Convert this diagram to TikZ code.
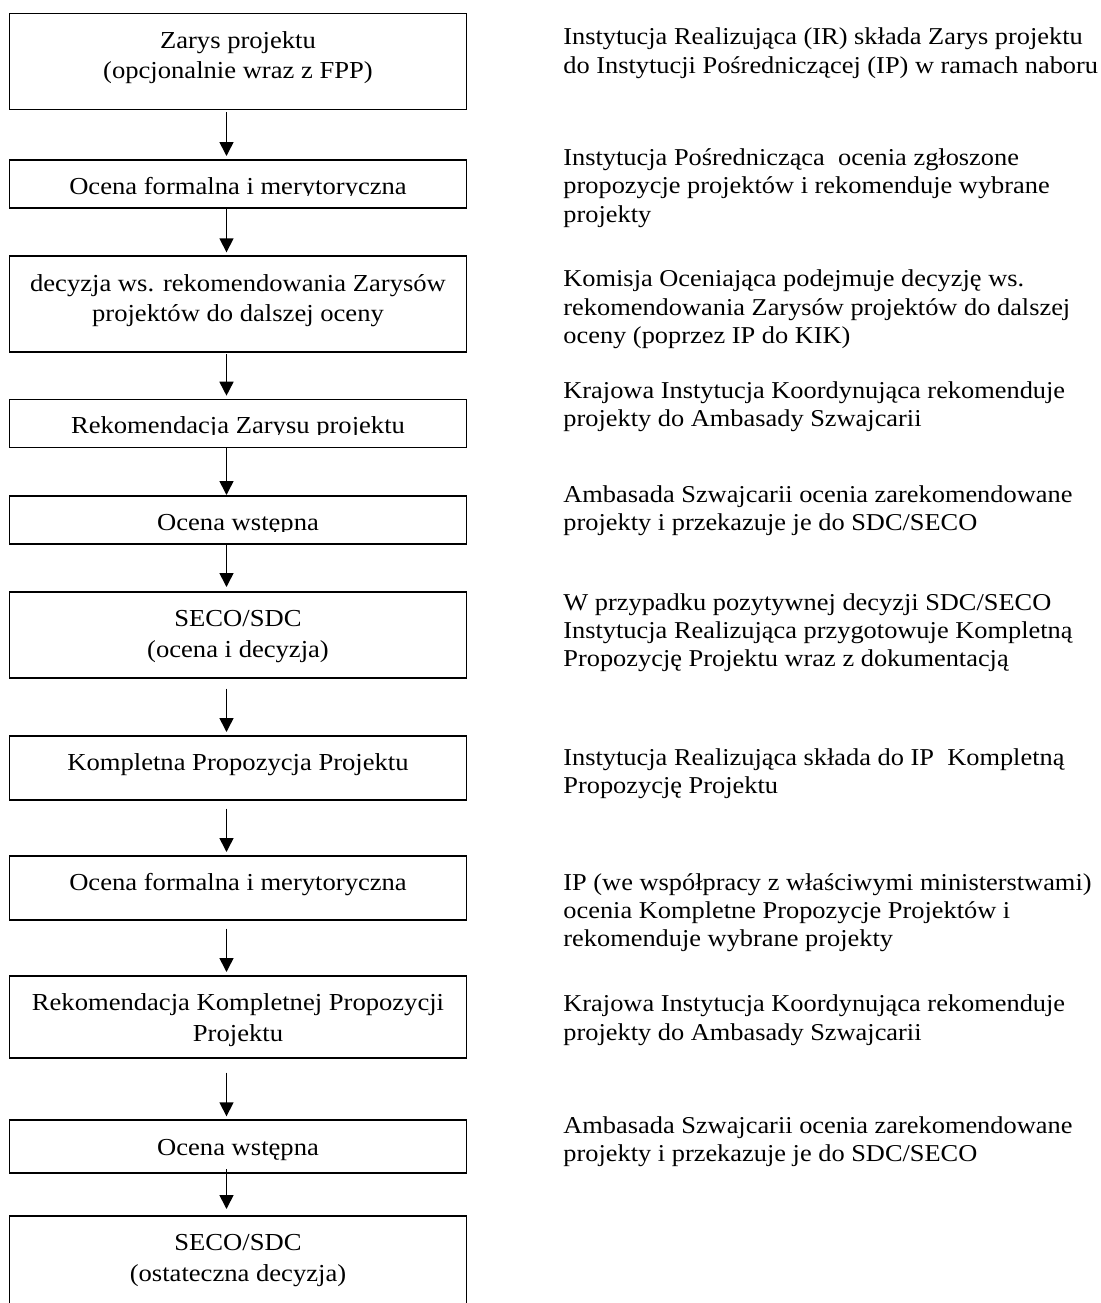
\documentclass[tikz,border=0pt]{standalone}
\usepackage{fontspec}
\setmainfont[FakeStretch=1.09]{Liberation Serif}
\usetikzlibrary{arrows.meta}

\tikzset{
	stage/.style={draw, line width=0.85pt, anchor=north, minimum width=228.5pt,
		inner xsep=0pt, inner ysep=0pt, text height=17.5pt, align=center,
		font=\fontsize{12.2}{15.2}\selectfont},
	stagetext/.style={anchor=base, inner sep=0pt, font=\fontsize{12.2}{15.2}\selectfont},
	note/.style={anchor=base west, inner sep=0pt, align=left,
		font=\fontsize{12.1}{14.15}\selectfont},
	flow/.style={-{Triangle[width=7pt,length=7pt]}, line width=0.8pt}
}

\begin{document}
\begin{tikzpicture}[x=0.5pt,y=-0.5pt]
	\useasboundingbox (0,0) rectangle (1101,1303);
	
	% draw boxes (two-line boxes: text height counts to the last line)
	\node[stage, text height=32.7pt, text depth=15.3pt] (b1) at (238,12.7) {Zarys projektu\\(opcjonalnie wraz z FPP)};
	\node[stage, text depth=6.5pt] (b2) at (238,159) {};
	\node[stage, text height=32.7pt, text depth=15.3pt] (b3) at (238,255.3) {decyzja ws. rekomendowania Zarysów\\projektów do dalszej oceny};
	\node[stage, text depth=6.5pt] (b4) at (238,398.7) {};
	\node[stage, text depth=6.5pt] (b5) at (238,495) {};
	\node[stage, text height=32.7pt, text depth=10.3pt] (b6) at (238,591) {SECO/SDC\\(ocena i decyzja)};
	\node[stage, text depth=14.5pt] (b7) at (238,735) {Kompletna Propozycja Projektu};
	\node[stage, text depth=14.5pt] (b8) at (238,855) {Ocena formalna i merytoryczna};
	\node[stage, text height=32.7pt, text depth=8.3pt] (b9) at (238,975) {Rekomendacja Kompletnej Propozycji\\Projektu};
	\node[stage, text depth=9pt] (b10) at (238,1119.3) {Ocena wstępna};
	\node[stage, text height=32.7pt, text depth=24.8pt] (b11) at (238,1215) {SECO/SDC\\(ostateczna decyzja)};
	
	% text cut off at the bottom of the box
	\foreach \bx/\txt in {b2/Ocena formalna i merytoryczna, b4/Rekomendacja Zarysu projektu, b5/Ocena wstępna}
	{
		\begin{scope}
			\clip (\bx.north west) rectangle ([yshift=-18pt]\bx.north east);
			\node[stagetext] at ([yshift=-17.5pt]\bx.north) {\txt};
		\end{scope}
	}
	
	% draw arrows
	\foreach \from/\to/\s/\e in {b1/b2/1/1.5, b2/b3/0/1.5, b3/b4/0.5/1.5, b4/b5/0/0, b5/b6/0/2,
		b6/b7/5/1.5, b7/b8/4/1.5, b8/b9/4/1.5, b9/b10/7/1.5, b10/b11/-2.5/3}
	\draw[flow, shorten <=\s pt, shorten >=\e pt] ([xshift=-5.75pt]\from.south) -- ([xshift=-5.75pt]\to.north);
	
	% draw notes (placed at the baseline of their last line)
	\node[note] (n1) at (563,73) {Instytucja Realizująca (IR) składa Zarys projektu\\do Instytucji Pośredniczącej (IP) w ramach naboru};
	\node[note] (n2) at (563,222) {Instytucja Pośrednicząca\ \ ocenia zgłoszone\\propozycje projektów i rekomenduje wybrane\\projekty};
	\node[note] (n3) at (563,343.5) {Komisja Oceniająca podejmuje decyzję ws.\\rekomendowania Zarysów projektów do dalszej\\oceny (poprzez IP do KIK)};
	\node[note] (n4) at (563,426.7) {Krajowa Instytucja Koordynująca rekomenduje\\projekty do Ambasady Szwajcarii};
	\node[note] (n5) at (563,530.5) {Ambasada Szwajcarii ocenia zarekomendowane\\projekty i przekazuje je do SDC/SECO};
	\node[note] (n6) at (563,666.7) {W przypadku pozytywnej decyzji SDC/SECO\\Instytucja Realizująca przygotowuje Kompletną\\Propozycję Projektu wraz z dokumentacją};
	\node[note] (n7) at (563,793.3) {Instytucja Realizująca składa do IP\ \ Kompletną\\Propozycję Projektu};
	\node[note] (n8) at (563,946.7) {IP (we współpracy z właściwymi ministerstwami)\\ocenia Kompletne Propozycje Projektów i\\rekomenduje wybrane projekty};
	\node[note] (n9) at (563,1040) {Krajowa Instytucja Koordynująca rekomenduje\\projekty do Ambasady Szwajcarii};
	\node[note] (n10) at (563,1161.7) {Ambasada Szwajcarii ocenia zarekomendowane\\projekty i przekazuje je do SDC/SECO};
	
\end{tikzpicture}
\end{document}
